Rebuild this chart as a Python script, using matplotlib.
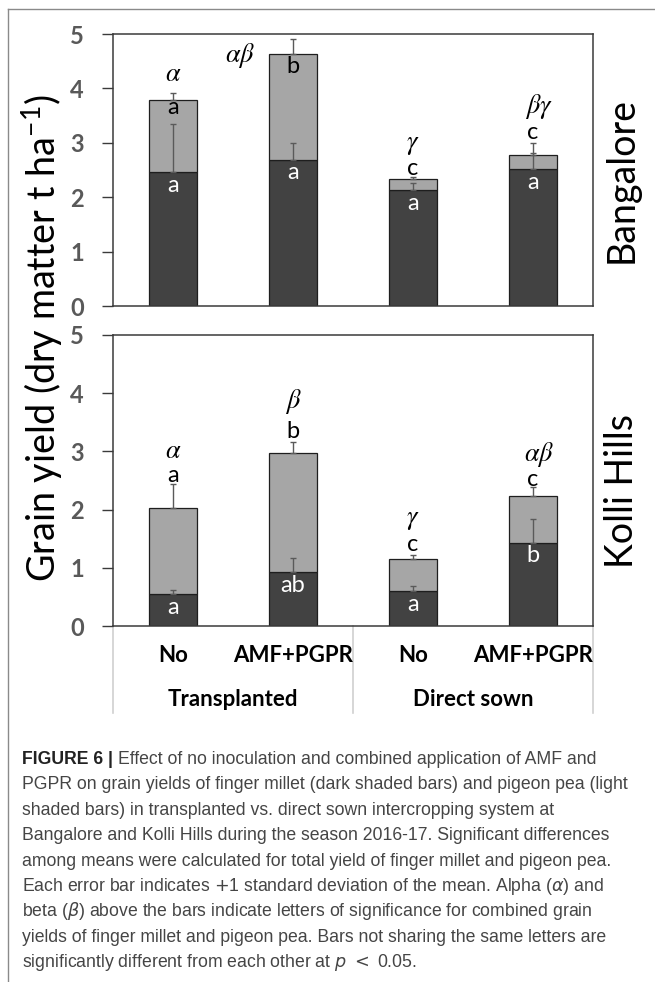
import matplotlib
matplotlib.use("Agg")
import matplotlib.pyplot as plt
from matplotlib.lines import Line2D

plt.rcParams["font.family"] = ["Lato", "DejaVu Sans"]
plt.rcParams["mathtext.fontset"] = "custom"
plt.rcParams["mathtext.rm"] = "Lato"
plt.rcParams["mathtext.it"] = "Lato:italic"
plt.rcParams["mathtext.bf"] = "Lato:bold"

# ---- data ----
treatments = ["No", "AMF+PGPR", "No", "AMF+PGPR"]
systems = ["Transplanted", "Direct sown"]
sites = ["Bangalore", "Kolli Hills"]

bangalore_millet = [2.46, 2.69, 2.13, 2.51]
bangalore_total = [3.78, 4.64, 2.34, 2.78]
bangalore_millet_sd = [0.89, 0.31, 0.13, 0.48]
bangalore_total_sd = [0.13, 0.27, 0.03, 0.03]
bangalore_millet_letters = ["a", "a", "a", "a"]
bangalore_pea_letters = ["a", "b", "c", "c"]
bangalore_combo_letters = [r"$\alpha$", r"$\alpha\beta$", r"$\gamma$", r"$\beta\gamma$"]

kolli_millet = [0.55, 0.92, 0.60, 1.43]
kolli_total = [2.03, 2.97, 1.15, 2.23]
kolli_millet_sd = [0.07, 0.24, 0.08, 0.40]
kolli_total_sd = [0.41, 0.19, 0.07, 0.15]
kolli_millet_letters = ["a", "ab", "a", "b"]
kolli_pea_letters = ["a", "b", "c", "c"]
kolli_combo_letters = [r"$\alpha$", r"$\beta$", r"$\gamma$", r"$\alpha\beta$"]

# letter placement (data units), layout only
bangalore_pea_y = [3.64, 4.41, 2.53, 3.19]
bangalore_combo_y = [4.28, 4.61, 2.97, 3.66]
bangalore_combo_dx = [0.0, -0.44, 0.0, 0.05]
kolli_pea_y = [2.59, 3.35, 1.40, 2.52]
kolli_combo_y = [3.01, 3.85, 1.83, 2.95]
kolli_combo_dx = [0.0, 0.0, 0.0, 0.05]

caption_lines = [
    "Effect of no inoculation and combined application of AMF and",
    "PGPR on grain yields of finger millet (dark shaded bars) and pigeon pea (light",
    "shaded bars) in transplanted vs. direct sown intercropping system at",
    "Bangalore and Kolli Hills during the season 2016-17. Significant differences",
    "among means were calculated for total yield of finger millet and pigeon pea.",
    r"Each error bar indicates $+$1 standard deviation of the mean. Alpha ($\alpha$) and",
    r"beta ($\beta$) above the bars indicate letters of significance for combined grain",
    "yields of finger millet and pigeon pea. Bars not sharing the same letters are",
    r"significantly different from each other at $p$ $<$ 0.05.",
]

DARK = "#424242"
LIGHT = "#a6a6a6"
EDGE = "#1e1e1e"
ERR = "#5a5a5a"
W, H = 655, 982


def draw_panel(ax, millet, total, millet_sd, total_sd, m_let, p_let, c_let,
               p_y, c_y, c_dx, site):
    x = list(range(len(millet)))
    pea = [t - m for t, m in zip(total, millet)]
    ax.bar(x, millet, width=0.4, color=DARK, edgecolor=EDGE, linewidth=0.9, zorder=2)
    ax.bar(x, pea, bottom=millet, width=0.4, color=LIGHT, edgecolor=EDGE,
           linewidth=0.9, zorder=2)
    zeros = [0] * len(x)
    ax.errorbar(x, total, yerr=[zeros, total_sd], fmt="none", ecolor=ERR,
                elinewidth=1, capsize=2.5, capthick=1, zorder=3)
    ax.errorbar(x, millet, yerr=[zeros, millet_sd], fmt="none", ecolor=ERR,
                elinewidth=1, capsize=2.5, capthick=1, zorder=3)

    for i in x:
        ax.annotate(m_let[i], (i, millet[i]), xytext=(0, -9.5), textcoords="offset points",
                    ha="center", va="center", color="white", fontsize=17, zorder=4)
        ax.text(i, p_y[i], p_let[i], ha="center", va="center", color="black",
                fontsize=17, zorder=4)
        ax.text(i + c_dx[i], c_y[i], c_let[i], ha="center", va="center", color="black",
                fontsize=19, math_fontfamily="stix", zorder=4)

    ax.set_xlim(-0.5, 3.5)
    ax.set_ylim(0, 5)
    ax.set_yticks(range(6))
    ax.set_xticks([])
    ax.tick_params(axis="y", direction="out", length=8, width=1, pad=13,
                   labelsize=17, labelcolor="#595959", color="#3a3a3a")
    for lab in ax.get_yticklabels():
        lab.set_fontweight("bold")
    for s in ax.spines.values():
        s.set_color("#3a3a3a")
        s.set_linewidth(1.1)
    ax.text(1 + 29 / 480, 0.465, site, transform=ax.transAxes, rotation=90,
            ha="center", va="center", fontsize=27, color="black")


fig = plt.figure(figsize=(W / 100, H / 100), dpi=100)

ax_top = fig.add_axes([113 / W, 1 - 306 / H, 480 / W, 272 / H])
ax_bot = fig.add_axes([113 / W, 1 - 626 / H, 480 / W, 291 / H])

draw_panel(ax_top, bangalore_millet, bangalore_total, bangalore_millet_sd,
           bangalore_total_sd, bangalore_millet_letters, bangalore_pea_letters,
           bangalore_combo_letters, bangalore_pea_y, bangalore_combo_y,
           bangalore_combo_dx, sites[0])
draw_panel(ax_bot, kolli_millet, kolli_total, kolli_millet_sd, kolli_total_sd,
           kolli_millet_letters, kolli_pea_letters, kolli_combo_letters,
           kolli_pea_y, kolli_combo_y, kolli_combo_dx, sites[1])

# category table under the lower panel
xt = ax_bot.get_xaxis_transform()
for i, name in enumerate(treatments):
    ax_bot.annotate(name, (i, 0), xycoords=xt, xytext=(0, -21.5), textcoords="offset points",
                    ha="center", va="center", fontsize=16, fontweight="bold")
for j, name in enumerate(systems):
    ax_bot.annotate(name, (2 * j + 0.5, 0), xycoords=xt, xytext=(0, -53),
                    textcoords="offset points", ha="center", va="center",
                    fontsize=16, fontweight="bold")
for xb in [-0.5, 1.5, 3.5]:
    ax_bot.plot([xb, xb], [0, -87 / 291], transform=xt, color="#d0d0d0",
                lw=1.2, clip_on=False, zorder=1)

ylab = fig.text(42 / W, 1 - 338.5 / H, r"Grain yield (dry matter t ha$^{\mathregular{-1}}$)",
                rotation=90, ha="center", va="center", fontsize=25)

# frame around the figure
fig.add_artist(Line2D([8 / W, 1], [1 - 9 / H, 1 - 9 / H], transform=fig.transFigure,
                      color="#8a8a8a", lw=1))
fig.add_artist(Line2D([8 / W, 8 / W], [0, 1 - 9 / H], transform=fig.transFigure,
                      color="#8a8a8a", lw=1))

# caption
cap_font = ["Liberation Sans", "DejaVu Sans"]
cap_size = 12.7
x0 = 22 / W
base0 = 764
head = fig.text(x0, 1 - base0 / H, "FIGURE 6 |", family=cap_font, fontsize=cap_size,
                fontweight="bold", color="#222222", va="baseline")
fig.canvas.draw()
renderer = fig.canvas.get_renderer()
# y label should run about 489 px, as in the original
ext = ylab.get_window_extent(renderer=renderer)
ylab.set_fontsize(25 * 489 / ext.height)
bb = head.get_window_extent(renderer=renderer)
for k, line in enumerate(caption_lines):
    xs = (bb.x1 + 5) / W if k == 0 else x0
    fig.text(xs, 1 - (base0 + 25.4 * k) / H, line, family=cap_font, fontsize=cap_size,
             color="#454545", va="baseline", math_fontfamily="dejavusans")

fig.savefig("out.png", dpi=100)
